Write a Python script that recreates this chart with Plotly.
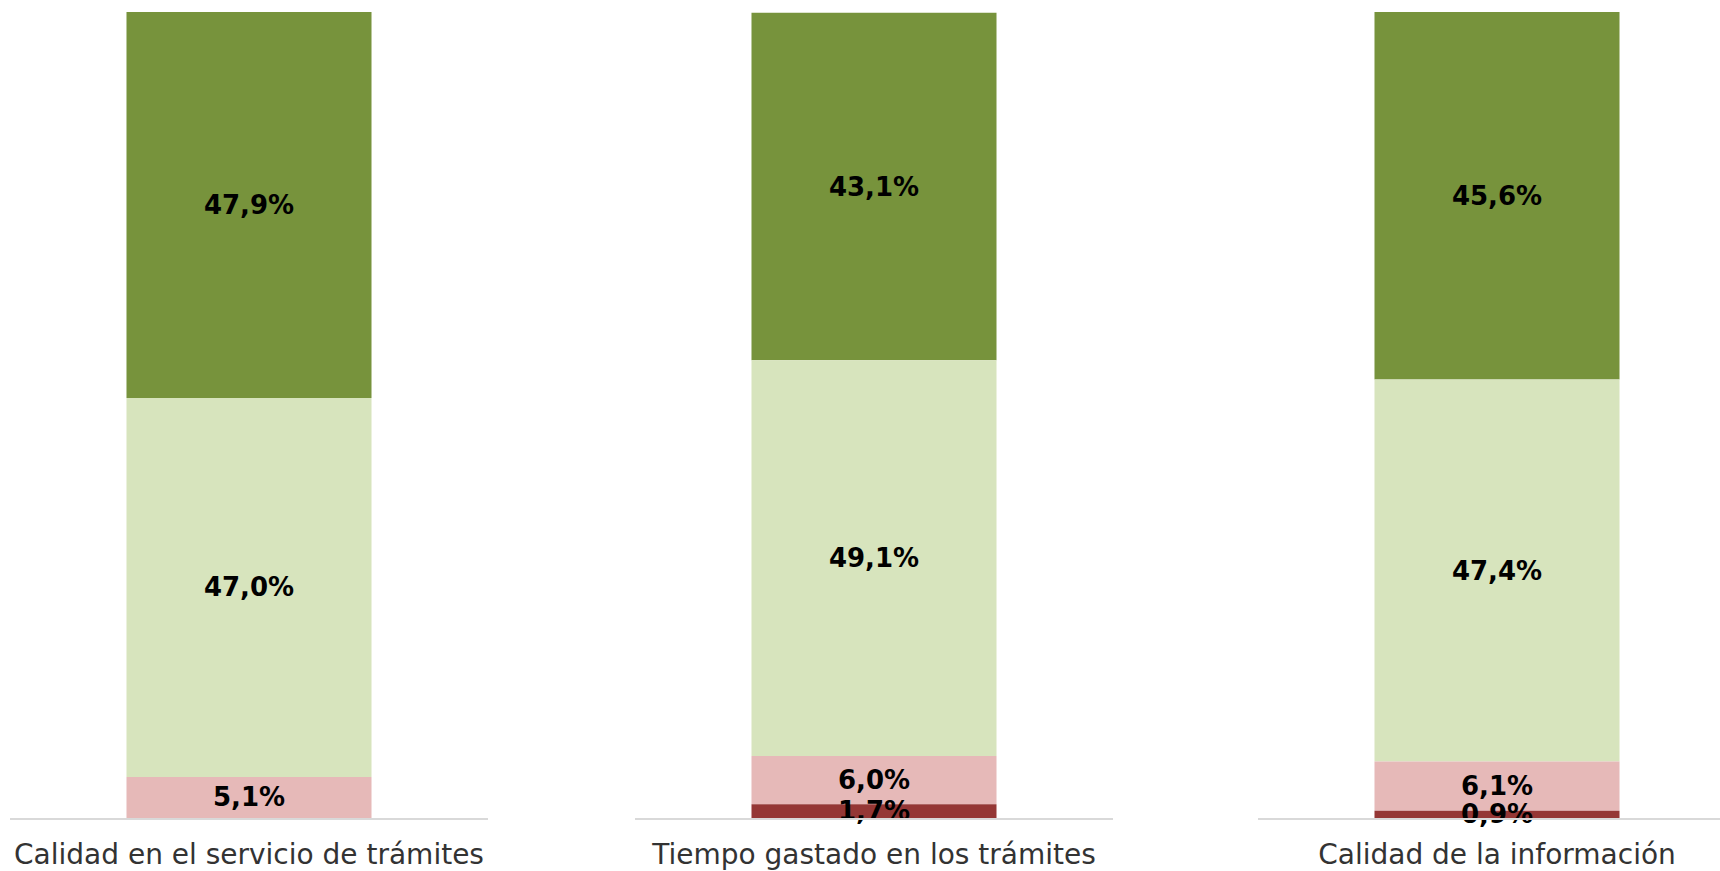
import numpy as np
import plotly.graph_objects as go

categories = ["Calidad en el servicio de trámites", "Tiempo gastado en los trámites", "Calidad de la información"]
series_names = ["Muy insatisfecho", "Insatisfecho", "Satisfecho", "Muy satisfecho"]
muy_insatisfecho = [0.0, 1.7, 0.9]
insatisfecho = [5.1, 6.0, 6.1]
satisfecho = [47.0, 49.1, 47.4]
muy_satisfecho = [47.9, 43.1, 45.6]
colors = ["#953735", "#E6B9B8", "#D7E4BD", "#77933C"]

W, H = 1720, 871
fig = go.Figure()

panel_px = [(10, 488), (635, 1113), (1258, 1736)]
series = [muy_insatisfecho, insatisfecho, satisfecho, muy_satisfecho]

for i, cat in enumerate(categories):
    x0, x1 = panel_px[i]
    unit = x1 - x0
    d0 = x0 / W
    d1 = min(x1, W) / W
    r0 = -0.5
    r1 = -0.5 + (min(x1, W) - x0) / unit
    ax = "" if i == 0 else str(i + 1)
    vals_i = [s[i] for s in series]
    bases = np.concatenate([[0], np.cumsum(vals_i)[:-1]])
    # draw top segments first so bottom labels stay on top
    for s in reversed(range(len(series))):
        v = vals_i[s]
        fig.add_trace(go.Bar(
            x=[cat], y=[v], base=[bases[s]], name=series_names[s],
            marker=dict(color=colors[s], line=dict(width=0)),
            text=[f"{v:.1f}%".replace(".", ",") if v > 0 else ""],
            textposition="inside", insidetextanchor="middle", textangle=0,
            constraintext="none", cliponaxis=False,
            textfont=dict(family="DejaVu Sans", size=26, color="#000000", weight="bold"),
            width=0.5126, showlegend=False,
            xaxis="x" + ax, yaxis="y" + ax,
        ))
    fig.layout["xaxis" + ax] = dict(
        domain=[d0, d1], range=[r0, r1], type="category",
        showline=True, linecolor="#D9D9D9", linewidth=1.5,
        showgrid=False, zeroline=False, ticks="",
        tickfont=dict(family="DejaVu Sans", size=28, color="#333333"),
        ticklabelstandoff=11, anchor="y" + ax, fixedrange=True,
    )
    fig.layout["yaxis" + ax] = dict(
        domain=[0, 1], range=[0, 100], visible=False, anchor="x" + ax,
        showgrid=False, zeroline=False, fixedrange=True,
    )

fig.update_layout(
    barmode="overlay", width=W, height=H,
    margin=dict(l=0, r=0, t=12, b=51),
    paper_bgcolor="white", plot_bgcolor="white",
    uniformtext=dict(minsize=26, mode="show"),
)
fig.write_html("out.html", config={"displayModeBar": False},
               post_script="document.body.style.margin='0';document.body.style.overflow='hidden';")
